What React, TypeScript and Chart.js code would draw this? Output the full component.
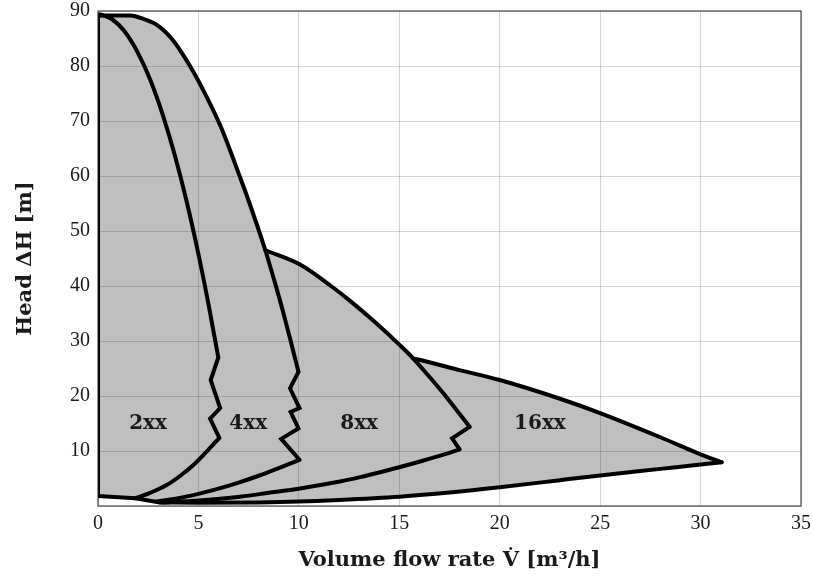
import { useEffect, useRef } from 'react';
import { Chart, registerables } from 'chart.js';

Chart.register(...registerables);

// ---- Data (flow rate Q in m³/h, head H in m) ----
// Curve B: envelope top, continuing as 4xx / 8xx boundary (junction at index 10)
const curveBQ = [0, 1.6, 2.3, 3.0, 3.75, 4.58, 5.41, 6.12, 7.05, 7.5, 8.33, 8.88, 9.26, 9.6, 9.98];
const curveBH = [89.2, 89.2, 88.5, 87.3, 84.6, 80.0, 74.4, 68.9, 60.0, 55.5, 46.5, 39.7, 34.7, 29.9, 24.4];
// Curve C: envelope (8xx), continuing as 8xx / 16xx boundary (junction at index 6)
const curveCQ = [8.33, 10.06, 11.6, 12.55, 13.8, 15.04, 15.7, 16.4, 17.1, 17.8, 18.5];
const curveCH = [46.5, 43.9, 40.0, 37.3, 33.4, 29.2, 26.8, 23.9, 20.9, 17.7, 14.4];
// Curve D: envelope (16xx)
const curveDQ = [15.7, 16.2, 18.0, 20.0, 23.0, 25.0, 28.0, 30.0, 31.05];
const curveDH = [26.8, 26.4, 24.7, 22.9, 19.5, 16.9, 12.5, 9.4, 7.95];
// Envelope bottom (smooth part)
const bottomQ = [31.05, 30.0, 28.0, 25.0, 23.0, 20.0, 17.5, 15.0, 12.0, 10.0, 8.0, 5.0, 3.1];
const bottomH = [7.95, 7.55, 6.75, 5.55, 4.7, 3.4, 2.45, 1.7, 1.1, 0.8, 0.65, 0.6, 0.65];
// Envelope bottom-left and left edge (straight)
const edgeQ = [3.1, 1.84, 0, 0];
const edgeH = [0.65, 1.4, 1.8, 89.2];

// Boundary 2xx / 4xx
const upper2Q = [0.1, 0.7, 1.3, 2.0, 2.6, 3.2, 3.8, 4.4, 5.0, 5.5, 5.99];
const upper2H = [89.4, 88.5, 86.4, 82.3, 77.5, 71.4, 64.1, 55.6, 45.8, 36.7, 27.0];
const zig2Q = [5.99, 5.61, 6.08, 5.58, 6.04];
const zig2H = [27.0, 22.9, 17.8, 15.9, 12.4];
const lower2Q = [6.04, 5.41, 4.75, 4.1, 3.42, 2.6, 1.84];
const lower2H = [12.4, 9.9, 7.45, 5.5, 3.8, 2.4, 1.4];
// Boundary 4xx / 8xx (below curve B)
const zig4Q = [9.98, 9.56, 10.03, 9.59, 9.98, 9.12, 10.03];
const zig4H = [24.4, 21.4, 17.8, 17.1, 14.1, 12.2, 8.4];
const lower4Q = [10.03, 9.0, 8.0, 7.0, 6.0, 5.0, 4.0, 2.92];
const lower4H = [8.4, 6.9, 5.5, 4.25, 3.15, 2.2, 1.4, 0.8];
// Boundary 8xx / 16xx (below curve C)
const zig8Q = [18.5, 17.63, 18.0];
const zig8H = [14.4, 12.3, 10.3];
const lower8Q = [18.0, 17.0, 16.04, 15.04, 14.0, 13.05, 12.05, 10.06, 8.5, 7.07, 5.5, 4.08, 3.2];
const lower8H = [10.3, 9.1, 8.1, 7.1, 6.1, 5.25, 4.45, 3.2, 2.4, 1.7, 1.15, 0.8, 0.65];

// Region labels
const regionNames = ['2xx', '4xx', '8xx', '16xx'];
const regionQ = [2.49, 7.48, 13.0, 22.0];
const regionH = [15, 15, 15, 15];

const xTitle = 'Volume flow rate V\u0307 [m\u00B3/h]';
const yTitle = 'Head \u0394H [m]';

const pts = (qs: number[], hs: number[]) => qs.map((q, i) => ({ x: q, y: hs[i] }));

export default function App() {
  const ref = useRef<HTMLCanvasElement>(null);

  useEffect(() => {
    if (!ref.current) return;
    const envelope = [
      ...pts(curveBQ, curveBH).slice(0, 11),
      ...pts(curveCQ, curveCH).slice(1, 7),
      ...pts(curveDQ, curveDH).slice(1),
      ...pts(bottomQ, bottomH).slice(1),
      ...pts(edgeQ, edgeH).slice(1),
    ];
    const base = {
      showLine: true,
      pointRadius: 0,
      pointHoverRadius: 0,
      borderColor: '#000',
      borderWidth: 4,
      borderCapStyle: 'round' as const,
      borderJoinStyle: 'miter' as const,
      fill: false,
    };
    const smooth = (qs: number[], hs: number[]) => ({
      ...base,
      cubicInterpolationMode: 'monotone' as const,
      data: pts(qs, hs),
    });
    const straight = (qs: number[], hs: number[]) => ({ ...base, tension: 0, data: pts(qs, hs) });

    const overlay = {
      id: 'overlay',
      afterDatasetsDraw(chart: any) {
        const { ctx, chartArea, scales } = chart;
        const { left, top, right, bottom } = chartArea;
        ctx.save();
        ctx.strokeStyle = '#222';
        ctx.lineWidth = 1;
        ctx.strokeRect(left, top, right - left, bottom - top);
        ctx.font = 'bold 20px "DejaVu Serif"';
        ctx.fillStyle = '#1a1a1a';
        ctx.textAlign = 'center';
        ctx.textBaseline = 'middle';
        regionNames.forEach((n, i) => {
          ctx.fillText(n, scales.x.getPixelForValue(regionQ[i]), scales.y.getPixelForValue(regionH[i]));
        });
        ctx.restore();
      },
    };

    const chart = new Chart(ref.current, {
      type: 'scatter',
      data: {
        datasets: [
          smooth(curveBQ, curveBH),
          smooth(curveCQ, curveCH),
          smooth(curveDQ, curveDH),
          smooth(bottomQ, bottomH),
          straight(edgeQ, edgeH),
          smooth(upper2Q, upper2H),
          straight(zig2Q, zig2H),
          smooth(lower2Q, lower2H),
          straight(zig4Q, zig4H),
          smooth(lower4Q, lower4H),
          straight(zig8Q, zig8H),
          smooth(lower8Q, lower8H),
          {
            ...base,
            tension: 0,
            borderWidth: 0,
            borderColor: 'rgba(0,0,0,0)',
            data: envelope,
            fill: 'shape',
            backgroundColor: 'rgba(0,0,0,0.25)',
          },
        ],
      },
      options: {
        responsive: false,
        animation: false,
        devicePixelRatio: 1,
        layout: { padding: { top: 11, right: 12, left: 0, bottom: 0 } },
        plugins: {
          legend: { display: false },
          tooltip: { enabled: false },
        },
        scales: {
          x: {
            type: 'linear',
            min: 0,
            max: 35,
            ticks: {
              stepSize: 5,
              font: { family: '"Liberation Serif"', size: 20 },
              color: '#1a1a1a',
              padding: 6,
            },
            grid: { color: 'rgba(0,0,0,0.17)', drawTicks: false },
            border: { display: false },
            title: {
              display: true,
              text: xTitle,
              font: { family: '"DejaVu Serif"', size: 21, weight: 'bold' },
              color: '#1a1a1a',
              padding: { top: 0, bottom: 8 },
            },
            afterFit: (s: any) => {
              s.height = 75;
              s.paddingLeft = 0;
              s.paddingRight = 0;
              s.paddingTop = 0;
              s.paddingBottom = 0;
            },
          },
          y: {
            type: 'linear',
            min: 0,
            max: 90,
            ticks: {
              stepSize: 10,
              font: { family: '"Liberation Serif"', size: 20 },
              color: '#1a1a1a',
              padding: 8,
              callback: (v: any) => (v === 0 ? '' : String(v)),
            },
            grid: { color: 'rgba(0,0,0,0.17)', drawTicks: false },
            border: { display: false },
            title: {
              display: true,
              text: yTitle,
              font: { family: '"DejaVu Serif"', size: 21, weight: 'bold' },
              color: '#1a1a1a',
              padding: { top: 13, bottom: 0 },
            },
            afterFit: (s: any) => {
              s.width = 98;
              s.paddingLeft = 0;
              s.paddingRight = 0;
              s.paddingTop = 0;
              s.paddingBottom = 0;
            },
          },
        },
      },
      plugins: [overlay],
    } as any);

    return () => chart.destroy();
  }, []);

  return (
    <div style={{ position: 'absolute', left: 0, top: 0, width: 813, height: 581, background: '#fff' }}>
      <canvas ref={ref} width={813} height={581} style={{ display: 'block', width: 813, height: 581 }} />
    </div>
  );
}
